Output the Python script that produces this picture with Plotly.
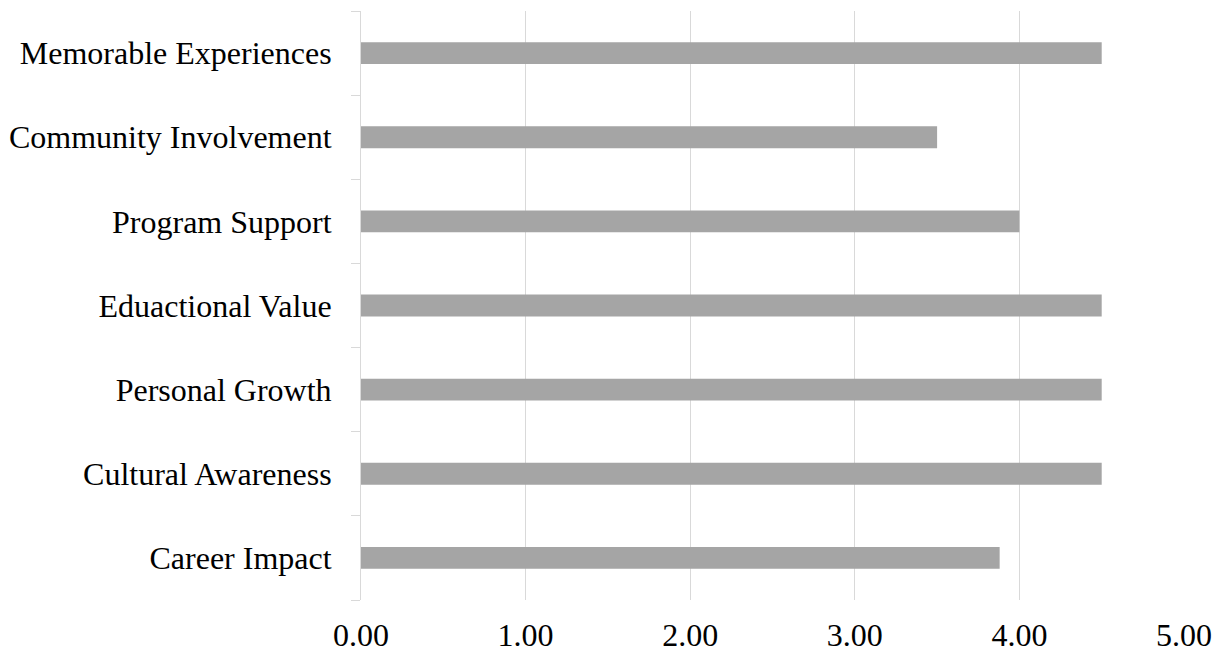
import plotly.graph_objects as go

categories = ["Career Impact", "Cultural Awareness", "Personal Growth", "Eduactional Value",
              "Program Support", "Community Involvement", "Memorable Experiences"]
values = [3.88, 4.5, 4.5, 4.5, 4.0, 3.5, 4.5]
x_ticks = [0, 1, 2, 3, 4, 5]

fig = go.Figure(go.Bar(
    x=values, y=categories, orientation="h",
    marker=dict(color="#A5A5A5", line=dict(width=0)),
))

fig.update_layout(
    width=1218, height=654,
    margin=dict(l=361, r=34, t=11, b=54),
    paper_bgcolor="white", plot_bgcolor="white",
    bargap=0.74,
    font=dict(family="Liberation Serif", size=32, color="black"),
    showlegend=False,
)
fig.update_xaxes(
    range=[0, 5], tickvals=x_ticks, tickformat=".2f",
    showgrid=True, gridcolor="#D9D9D9", gridwidth=1,
    zeroline=False, showline=False, ticks="",
    ticklabelstandoff=13, automargin=False,
)
fig.update_yaxes(
    showline=True, linecolor="#D9D9D9", linewidth=1,
    ticks="outside", tickson="boundaries", ticklen=9, tickcolor="#D9D9D9",
    showgrid=False, ticklabelstandoff=22, automargin=False,
)

fig.write_html("out.html")
